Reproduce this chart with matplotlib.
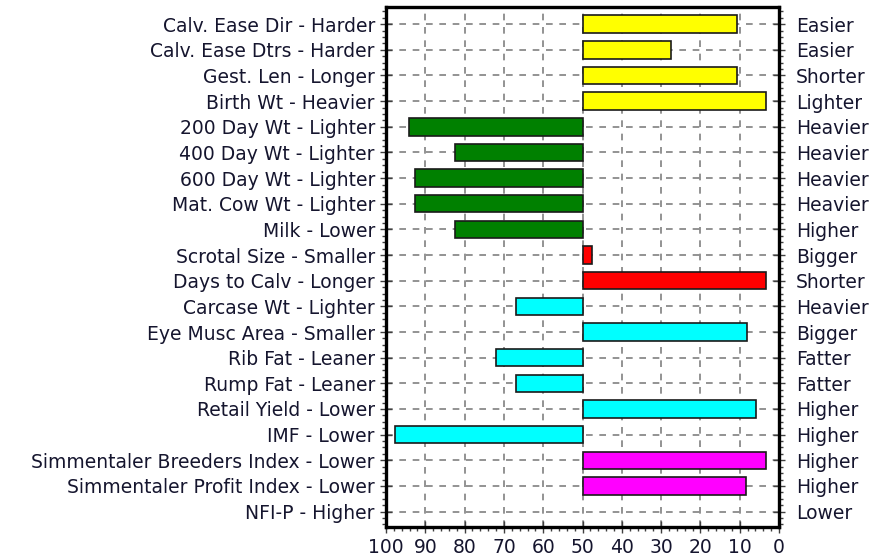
"""Trait bar chart with reversed percentile axis"""

import matplotlib
matplotlib.use("Agg")
from matplotlib import pyplot as plt
from matplotlib.ticker import MultipleLocator, FixedLocator

left_labels = [
    "Calv. Ease Dir - Harder",
    "Calv. Ease Dtrs - Harder",
    "Gest. Len - Longer",
    "Birth Wt - Heavier",
    "200 Day Wt - Lighter",
    "400 Day Wt - Lighter",
    "600 Day Wt - Lighter",
    "Mat. Cow Wt - Lighter",
    "Milk - Lower",
    "Scrotal Size - Smaller",
    "Days to Calv - Longer",
    "Carcase Wt - Lighter",
    "Eye Musc Area - Smaller",
    "Rib Fat - Leaner",
    "Rump Fat - Leaner",
    "Retail Yield - Lower",
    "IMF - Lower",
    "Simmentaler Breeders Index - Lower",
    "Simmentaler Profit Index - Lower",
    "NFI-P - Higher",
]
right_labels = [
    "Easier", "Easier", "Shorter", "Lighter", "Heavier", "Heavier", "Heavier",
    "Heavier", "Higher", "Bigger", "Shorter", "Heavier", "Bigger", "Fatter",
    "Fatter", "Higher", "Higher", "Higher", "Higher", "Lower",
]
values = [
    10.6, 27.4, 10.6, 3.4, 94.1, 82.4, 92.6, 92.6, 82.4, 47.5,
    3.4, 67.0, 8.1, 72.1, 67.0, 5.9, 97.7, 3.4, 8.5, 50.0,
]
groups = [
    "calving", "calving", "calving", "calving", "growth", "growth", "growth",
    "growth", "growth", "fertility", "fertility", "carcase", "carcase",
    "carcase", "carcase", "carcase", "carcase", "index", "index", "feed",
]
group_colors = {
    "calving": "#ffff00",
    "growth": "#008000",
    "fertility": "#ff0000",
    "carcase": "#00ffff",
    "index": "#ff00ff",
    "feed": "#ffffff",
}
x_ticks = [100, 90, 80, 70, 60, 50, 40, 30, 20, 10, 0]
centre = 50

text_color = "#15152e"
plt.rcParams["font.family"] = ["DejaVu Sans"]

fig = plt.figure(figsize=(8.71, 5.56), dpi=100)
ax = fig.add_axes([0.4432, 0.0522, 0.4512, 0.9352])

rows = list(range(len(values)))
widths = [v - centre for v in values]
colors = [group_colors[g] for g in groups]
lws = [0 if w == 0 else 1.2 for w in widths]
ax.barh(rows, widths, left=centre, height=0.68, color=colors,
        edgecolor="#1a1a1a", linewidth=lws, zorder=3)

ax.set_xlim(100, 0)
ax.set_ylim(19.6, -0.67)

ax.xaxis.set_major_locator(FixedLocator(x_ticks))
ax.xaxis.set_minor_locator(MultipleLocator(2))
ax.set_xticks(x_ticks)
ax.set_xticklabels([str(t) for t in x_ticks], fontsize=13.5, color=text_color)

ax.set_yticks(rows)
ax.set_yticklabels(left_labels, fontsize=13.5, color=text_color)
ax.yaxis.set_minor_locator(MultipleLocator(0.25))

ax.grid(True, which="major", color="#808080", linestyle=(0, (4, 4)),
        linewidth=1.2, zorder=0)
ax.set_axisbelow(True)

for side in ("left", "right", "top", "bottom"):
    ax.spines[side].set_linewidth(2.4)
    ax.spines[side].set_color("black")

ax.tick_params(axis="y", which="major", direction="inout", length=8,
               width=1, color="#404040", right=True, pad=4)
ax.tick_params(axis="y", which="minor", direction="out", length=3,
               width=1, color="#404040", right=True)
ax.tick_params(axis="x", which="major", direction="inout", length=8,
               width=1, color="#404040", pad=4)
ax.tick_params(axis="x", which="minor", direction="out", length=3,
               width=1, color="#404040")

sec = ax.secondary_yaxis("right")
sec.set_yticks(rows)
sec.set_yticklabels(right_labels, fontsize=13.5, color=text_color)
sec.spines["right"].set_visible(False)
sec.tick_params(axis="y", which="major", length=0, pad=12)
sec.tick_params(axis="y", which="minor", length=0)

fig.savefig("out.png", dpi=100)
